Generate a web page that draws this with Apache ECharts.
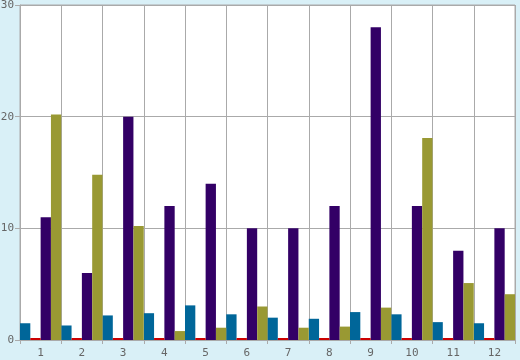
<!DOCTYPE html>
<html><head><meta charset="utf-8">
<script src="https://cdn.jsdelivr.net/npm/echarts@6/dist/echarts.min.js"></script>
<style>html,body{margin:0;padding:0;background:#d9f0f7;}#c{width:520px;height:360px;}</style>
</head><body><div id="c"></div>
<script>
var categories = ['1','2','3','4','5','6','7','8','9','10','11','12'];
var blueValues   = [1.5, 1.3, 2.2, 2.4, 3.1, 2.3, 2.0, 1.9, 2.5, 2.3, 1.6, 1.5];
var redValues    = [0, 0, 0, 0, 0, 0, 0, 0, 0, 0, 0, 0];
var purpleValues = [11, 6, 20, 12, 14, 10, 10, 12, 28, 12, 8, 10];
var oliveValues  = [20.2, 14.8, 10.2, 0.8, 1.1, 3.0, 1.1, 1.2, 2.9, 18.1, 5.1, 4.1];
var yTicks = [0, 10, 20, 30];

var chart = echarts.init(document.getElementById('c'), null, {renderer:'canvas'});
var lab = {color:'#666', fontFamily:'DejaVu Sans Mono', fontSize:11};
chart.setOption({
  backgroundColor:'#d9f0f7',
  animation:false,
  grid:{left:20, right:5, top:5, bottom:20, show:true, backgroundColor:'#ffffff', borderColor:'#aaaaaa', borderWidth:1, containLabel:false, outerBoundsMode:'none'},
  xAxis:{type:'category', data:categories, boundaryGap:true,
    axisLine:{show:true, lineStyle:{color:'#aaaaaa'}},
    axisTick:{show:true, length:4, lineStyle:{color:'#aaaaaa'}},
    axisLabel:Object.assign({margin:8}, lab),
    splitLine:{show:true, lineStyle:{color:'#aaaaaa', width:1}}},
  yAxis:{type:'value', min:yTicks[0], max:yTicks[yTicks.length-1], interval:10,
    axisLine:{show:true, lineStyle:{color:'#aaaaaa'}},
    axisTick:{show:true, length:5, lineStyle:{color:'#aaaaaa'}},
    axisLabel:Object.assign({margin:6}, lab),
    splitLine:{show:true, lineStyle:{color:'#aaaaaa', width:1}}},
  series:[
    {type:'bar', data:blueValues, itemStyle:{color:'#006699'}, barGap:'0%', barCategoryGap:'0%', z:3},
    {type:'bar', data:redValues, itemStyle:{color:'#cc0000'}, barMinHeight:2, barGap:'0%', barCategoryGap:'0%', z:5},
    {type:'bar', data:purpleValues, itemStyle:{color:'#330066'}, barGap:'0%', barCategoryGap:'0%', z:3},
    {type:'bar', data:oliveValues, itemStyle:{color:'#999933'}, barGap:'0%', barCategoryGap:'0%', z:3}
  ]
});
</script></body></html>
